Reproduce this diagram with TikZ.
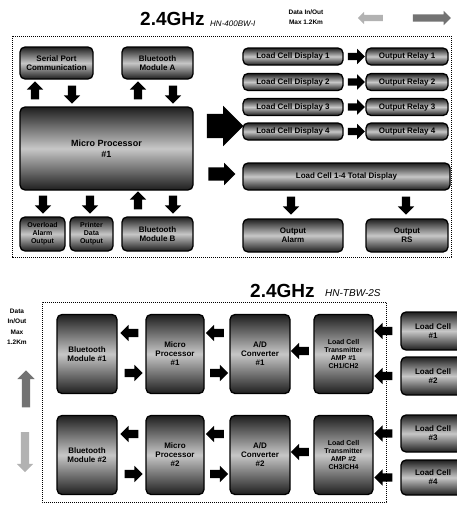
\documentclass[tikz,border=0pt]{standalone}
\usepackage{fontspec}
\setmainfont{Liberation Sans}
\usetikzlibrary{shapes.arrows,calc}
\begin{document}
\begin{tikzpicture}[x=1pt,y=-1pt,
  box/.style={draw=black, line width=1.3pt, rounded corners=5pt,
    top color=black!88, bottom color=black!88, middle color=black!22,
    font=\bfseries\fontsize{8}{9}\selectfont, align=center, inner sep=1pt, text=black},
  sbox/.style={box, font=\bfseries\fontsize{7}{8}\selectfont},
  fat/.style={single arrow, fill=black, draw=none, inner sep=4pt,
    single arrow head extend=4pt, minimum height=18pt, anchor=center},
  fr/.style={fat},
  fl/.style={fat, shape border rotate=180},
  fu/.style={fat, shape border rotate=90},
  fd/.style={fat, shape border rotate=270},
  frame/.style={line width=0.8pt, dash pattern=on 1.2pt off 0.8pt},
  title/.style={font=\bfseries\fontsize{19}{20}\selectfont, anchor=base west, inner sep=0pt},
  model/.style={font=\itshape\fontsize{8}{9}\selectfont, anchor=base west, inner sep=0pt},
  note/.style={font=\bfseries\fontsize{6.5}{10.5}\selectfont, align=center, inner sep=0pt}
]
\useasboundingbox (0,0) rectangle (456,506);

% ---------------- top section ----------------
\node[title] (t1) at (140,25) {2.4GHz};
\node[model] (m1) at (210,26) {HN-400BW-I};
\node[note] (n1) at (306,17) {Data In/Out\\Max 1.2Km};
\node[fat, shape border rotate=180, fill=black!30, inner sep=3pt, single arrow head extend=3pt, minimum height=25pt] (g1) at (372,18) {};
\node[fat, fill=black!55, inner sep=3.5pt, single arrow head extend=3.5pt, minimum height=38pt] (g2) at (430,18) {};

\draw[frame] (12,36) rectangle (451,257);

\node[box, minimum width=73, minimum height=32] (k1) at (56.5,63) {Serial Port\\Communication};
\node[box, minimum width=71, minimum height=32] (k2) at (157.5,63) {Bluetooth\\Module A};
\node[box, minimum width=173, minimum height=83, font=\bfseries\fontsize{9}{11}\selectfont] (mp) at (106.5,148.5) {Micro Processor\\\#1};
\node[sbox, minimum width=45, minimum height=34] (oa) at (42.5,234) {Overload\\Alarm\\Output};
\node[sbox, minimum width=43, minimum height=34] (ob) at (91.5,234) {Printer\\Data\\Output};
\node[box, minimum width=71, minimum height=34] (oc) at (157.5,234) {Bluetooth\\Module B};

\node[fu] at (35,92.5) {};
\node[fd] at (72,92.5) {};
\node[fu] at (138,92.5) {};
\node[fd] at (173,92.5) {};

\node[fd] at (43,202.5) {};
\node[fd] at (90,202.5) {};
\node[fu] at (138,202.5) {};
\node[fd] at (173,202.5) {};

\node[fat, inner sep=12pt, single arrow head extend=8pt, minimum height=29pt] (big) at (219,126) {};
\node[fat, inner sep=6.5pt, single arrow head extend=4.5pt, minimum height=27pt] (sm) at (218.5,174) {};

\foreach \i/\y in {1/56.5,2/82,3/107,4/131.5}{
  \node[box, minimum width=100, minimum height=17] (d\i) at (293,\y) {Load Cell Display \i};
  \node[box, minimum width=82, minimum height=17] (r\i) at (407,\y) {Output Relay \i};
  \node[fr, inner sep=3.5pt, minimum height=17pt] at ($(d\i.east)!0.5!(r\i.west)$) {};
}
\node[box, minimum width=207, minimum height=27] (tot) at (346.5,176.5) {Load Cell 1-4 Total Display};
\node[box, minimum width=100, minimum height=33] (o1) at (293,235.5) {Output\\Alarm};
\node[box, minimum width=82, minimum height=33] (o2) at (407,235.5) {Output\\RS};
\node[fd] at (291,203.5) {};
\node[fd] at (406,203.5) {};

% ---------------- bottom section ----------------
\node[title] (t2) at (250,297) {2.4GHz};
\node[model, font=\itshape\fontsize{10}{11}\selectfont] (m2) at (325,296) {HN-TBW-2S};
\node[note] (n2) at (17,327) {Data\\In/Out\\Max\\1.2Km};
\node[fat, shape border rotate=90, fill=black!55, inner sep=4pt, single arrow head extend=4.5pt, minimum height=37pt] (g3) at (26,391) {};
\node[fat, shape border rotate=270, fill=black!30, inner sep=4pt, single arrow head extend=4pt, minimum height=40pt] (g4) at (25,450) {};

\draw[frame] (386,302) -- (42,302) -- (42,502) -- (386,502) -- cycle;

\foreach \r/\cy/\ha/\hb/\ya/\yb/\la/\lb/\cha/\chb in {1/354/331/376/38/38/1/2/CH1/CH2, 2/455/433.5/477.5/37/35/3/4/CH3/CH4}{
  \node[box, minimum width=60, minimum height=79] (bt\r) at (87,\cy) {Bluetooth\\Module \#\r};
  \node[box, minimum width=58, minimum height=79] (mp\r) at (175,\cy) {Micro\\Processor\\\#\r};
  \node[box, minimum width=60, minimum height=79] (ad\r) at (260,\cy) {A/D\\Converter\\\#\r};
  \node[sbox, minimum width=59, minimum height=79] (lt\r) at (343.5,\cy) {Load Cell\\Transmitter\\AMP \#\r\\\cha/\chb};
  \node[box, minimum width=64, minimum height=\ya] (lca\r) at (433,\ha) {Load Cell\\\#\la};
  \node[box, minimum width=64, minimum height=\yb] (lcb\r) at (433,\hb) {Load Cell\\\#\lb};
  \node[fl] at ($(bt\r.east)!0.5!(mp\r.west)+(0,-21)$) {};
  \node[fr] at ($(bt\r.east)!0.5!(mp\r.west)+(0,19)$) {};
  \node[fl] at ($(mp\r.east)!0.5!(ad\r.west)+(0,-21)$) {};
  \node[fr] at ($(mp\r.east)!0.5!(ad\r.west)+(0,19)$) {};
  \node[fl] at ($(ad\r.east)!0.5!(lt\r.west)+(0,-3)$) {};
  \node[fl] at (385.5,\ha) {};
  \node[fl] at (385.5,\hb) {};
}
\end{tikzpicture}
\end{document}
